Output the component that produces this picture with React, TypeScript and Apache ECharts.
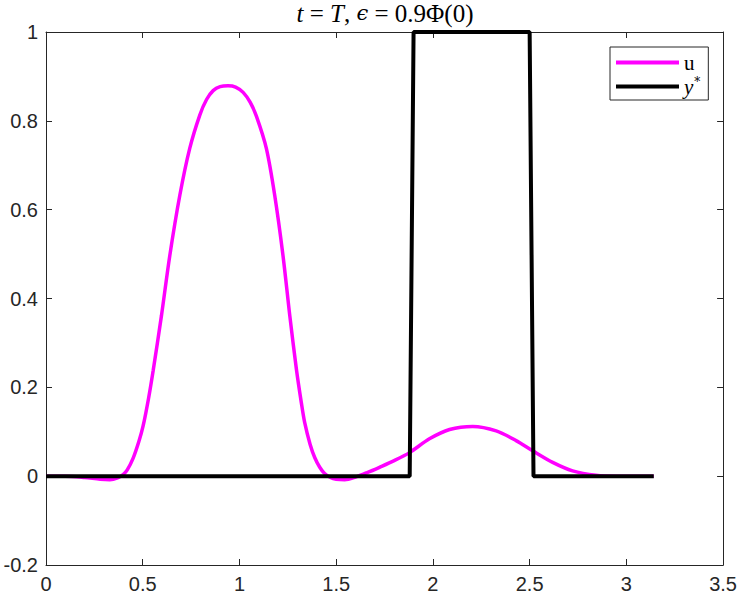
import React, { useEffect, useRef } from "react";
import * as echarts from "echarts";

const uX = [0, 0.1, 0.2, 0.28, 0.33, 0.37, 0.4, 0.42, 0.45, 0.48, 0.502, 0.53, 0.554, 0.597, 0.64, 0.692, 0.743, 0.795, 0.83, 0.864, 0.9, 0.941, 0.98, 1.019, 1.055, 1.088, 1.139, 1.182, 1.225, 1.26, 1.294, 1.32, 1.337, 1.365, 1.389, 1.415, 1.44, 1.47, 1.5, 1.544, 1.6, 1.66, 1.724, 1.8, 1.879, 1.982, 2.086, 2.206, 2.327, 2.43, 2.516, 2.619, 2.722, 2.843, 2.95, 3.1416];
const uY = [0, 0, -0.003, -0.007, -0.008, -0.004, 0.004, 0.014, 0.04, 0.078, 0.113, 0.175, 0.238, 0.362, 0.497, 0.633, 0.738, 0.813, 0.848, 0.868, 0.877, 0.879, 0.876, 0.864, 0.842, 0.81, 0.738, 0.633, 0.497, 0.362, 0.242, 0.165, 0.121, 0.072, 0.042, 0.02, 0.006, -0.003, -0.007, -0.008, -0.002, 0.008, 0.02, 0.035, 0.053, 0.084, 0.105, 0.112, 0.102, 0.08, 0.057, 0.031, 0.012, 0.002, 0, 0];

const yStarX = [0, 1.88, 1.9, 2.5, 2.52, 3.1416];
const yStarY = [0, 0, 1, 1, 0, 0];

const xTicks = { min: 0, max: 3.5, interval: 0.5 };
const yTicks = { min: -0.2, max: 1, interval: 0.2 };

const seriesNames = ["u", "y*"];

export default function App() {
  const ref = useRef<HTMLDivElement>(null);
  useEffect(() => {
    document.body.style.margin = "0";
    const chart = echarts.init(ref.current!, null, { renderer: "svg" });
    const axisColor = "#262626";
    const labelFont = { fontFamily: "Liberation Sans, Arial, sans-serif", fontSize: 20, color: axisColor };
    const tick = { show: true, inside: true, length: 6, lineStyle: { color: axisColor, width: 1 } };
    const line = { show: true, onZero: false, lineStyle: { color: axisColor, width: 1 } };
    chart.setOption({
      animation: false,
      grid: { left: 46, right: 16, top: 32, bottom: 33, containLabel: false },
      xAxis: [
        {
          type: "value", ...xTicks, position: "bottom",
          axisLine: line, axisTick: tick, splitLine: { show: false },
          axisLabel: { ...labelFont, margin: 9, formatter: (v: number) => String(+v.toFixed(1)) },
        },
        {
          type: "value", ...xTicks, position: "top",
          axisLine: line, axisTick: tick, splitLine: { show: false }, axisLabel: { show: false },
        },
      ],
      yAxis: [
        {
          type: "value", ...yTicks, position: "left",
          axisLine: line, axisTick: tick, splitLine: { show: false },
          axisLabel: { ...labelFont, margin: 8, formatter: (v: number) => String(+v.toFixed(1)) },
        },
        {
          type: "value", ...yTicks, position: "right",
          axisLine: line, axisTick: tick, splitLine: { show: false }, axisLabel: { show: false },
        },
      ],
      legend: {
        orient: "vertical",
        left: 610,
        top: 47,
        backgroundColor: "#fff",
        borderColor: "#262626",
        borderWidth: 1,
        padding: [5, 8, 3, 6],
        itemGap: 3,
        itemWidth: 63,
        itemHeight: 4,
        icon: "rect",
        data: seriesNames,
        formatter: (name: string) => (name === "y*" ? "{i|y}{s|*}" : "{r|u}"),
        textStyle: {
          fontFamily: "Liberation Serif, serif",
          fontSize: 21,
          color: "#000",
          rich: {
            r: { fontFamily: "Liberation Serif, serif", fontSize: 21, color: "#000" },
            i: { fontFamily: "Liberation Serif, serif", fontStyle: "italic", fontSize: 21, color: "#000" },
            s: { fontFamily: "DejaVu Serif, serif", fontSize: 12, color: "#000", verticalAlign: "top", padding: [0, 0, 9, 1] },
          },
        },
      },
      graphic: [
        {
          type: "text",
          x: 385,
          y: 13,
          style: {
            text: "{i|t} = {i|T}, {e|ϵ} = 0.9Φ(0)",
            align: "center",
            verticalAlign: "middle",
            fontFamily: "Liberation Serif, serif",
            fontSize: 25,
            fill: "#000",
            rich: {
              i: { fontFamily: "Liberation Serif, serif", fontStyle: "italic", fontSize: 25 },
              e: { fontFamily: "DejaVu Serif, serif", fontStyle: "italic", fontSize: 21 },
            },
          },
        },
      ],
      series: [
        {
          name: seriesNames[0],
          type: "line",
          data: uX.map((x, i) => [x, uY[i]]),
          smooth: 0.3,
          showSymbol: false,
          symbol: "none",
          lineStyle: { color: "#FF00FF", width: 3.5 },
          itemStyle: { color: "#FF00FF" },
          z: 2,
        },
        {
          name: seriesNames[1],
          type: "line",
          data: yStarX.map((x, i) => [x, yStarY[i]]),
          showSymbol: false,
          symbol: "none",
          lineStyle: { color: "#000", width: 4 },
          itemStyle: { color: "#000" },
          z: 3,
        },
      ],
    });
    return () => chart.dispose();
  }, []);
  return <div ref={ref} style={{ width: 740, height: 598 }} />;
}
